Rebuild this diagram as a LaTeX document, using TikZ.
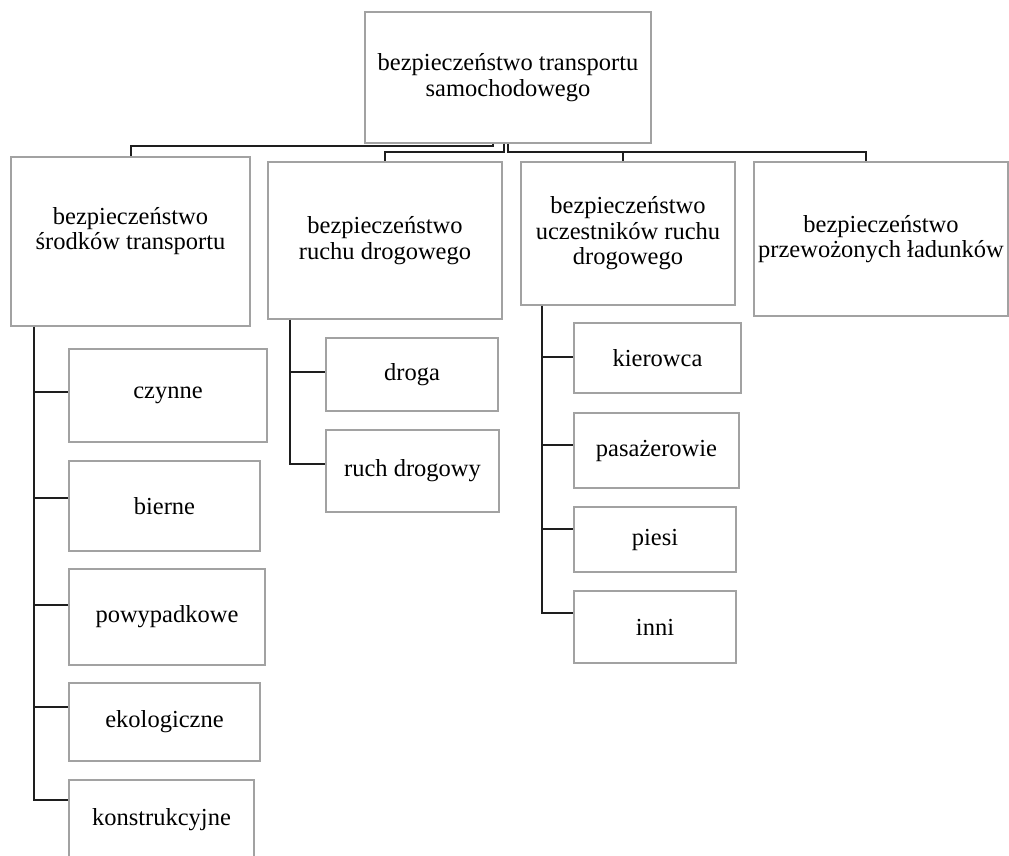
\documentclass[tikz,border=0pt]{standalone}
\usepackage{fontspec}
\setmainfont{Liberation Serif}
\begin{document}
\begin{tikzpicture}[x=1pt,y=-1pt,
  box/.style={draw=boxgray,line width=1.2pt,fill=white,inner sep=0pt,align=center,
    font=\fontsize{24.5}{25.5}\selectfont},
  conn/.style={draw=connblack,line width=2pt},
  lbl/.style={inner sep=0pt,align=center,font=\fontsize{24.5}{25.5}\selectfont}]
\definecolor{boxgray}{HTML}{A2A2A2}
\definecolor{connblack}{HTML}{1E1E1E}
\useasboundingbox (0,0) rectangle (1009,855);
\clip (0,0) rectangle (1009,855);
\fill[white] (0,0) rectangle (1009,855);

% level 0
\node[box,minimum width=286pt,minimum height=131pt] (top) at (508,77.5)
  {bezpieczeństwo transportu\\samochodowego};

% level 1
\node[box,minimum width=239pt,minimum height=169pt] (A) at (130.5,241.5) {};
\node[lbl] (Atext) at (130.5,231) {bezpieczeństwo\\środków transportu};
\node[box,minimum width=234pt,minimum height=157pt] (B) at (385,240.5)
  {bezpieczeństwo\\ruchu drogowego};
\node[box,minimum width=214pt,minimum height=143pt] (C) at (628,233.5)
  {bezpieczeństwo\\uczestników ruchu\\drogowego};
\node[box,minimum width=254pt,minimum height=154pt] (D) at (881,239)
  {bezpieczeństwo\\przewożonych ładunków};

% children of A
\node[box,minimum width=198pt,minimum height=93pt] (a1) at (168,395.5) {czynne};
\node[box,minimum width=191pt,minimum height=90pt] (a2) at (164.5,506) {bierne};
\node[box,minimum width=196pt,minimum height=96pt] (a3) at (167,617) {powypadkowe};
\node[box,minimum width=191pt,minimum height=78pt] (a4) at (164.5,722) {ekologiczne};
\node[box,minimum width=185pt,minimum height=80pt] (a5) at (161.5,820) {konstrukcyjne};

% children of B
\node[box,minimum width=172pt,minimum height=73pt] (b1) at (412,374.5) {droga};
\node[box,minimum width=173pt,minimum height=82pt] (b2) at (412.5,471) {ruch drogowy};

% children of C
\node[box,minimum width=167pt,minimum height=70pt] (c1) at (657.5,358) {kierowca};
\node[box,minimum width=165pt,minimum height=75pt] (c2) at (656.5,450.5) {pasażerowie};
\node[box,minimum width=162pt,minimum height=65pt] (c3) at (655,539.5) {piesi};
\node[box,minimum width=162pt,minimum height=72pt] (c4) at (655,627) {inni};

% top connectors
\coordinate (dA) at ([yshift=10pt]A.north);
\coordinate (dB) at ([yshift=9pt]B.north);
\coordinate (inD) at ([xshift=-15pt]D.north);
\coordinate (dD) at ([xshift=-15pt,yshift=9pt]D.north);
\coordinate (inC) at ([xshift=-5pt]C.north);
\coordinate (dC) at ([xshift=-5pt,yshift=9pt]C.north);
\draw[conn] ([xshift=-15pt]top.south) |- (dA) -- (A.north);
\draw[conn] ([xshift=-4pt]top.south) |- (dB) -- (B.north);
\draw[conn] (top.south) |- (dD) -- (inD);
\draw[conn] (dC) -- (inC);

% trunk A
\coordinate (tA) at ([xshift=24pt]A.south west);
\coordinate (pa1) at ([yshift=3.5pt]a1.west);
\coordinate (pa2) at ([yshift=8pt]a2.west);
\coordinate (pa3) at ([yshift=12pt]a3.west);
\coordinate (pa4) at ([yshift=15pt]a4.west);
\coordinate (pa5) at ([yshift=20pt]a5.west);
\draw[conn] (tA) |- (pa5);
\draw[conn] (tA |- pa1) -- (pa1);
\draw[conn] (tA |- pa2) -- (pa2);
\draw[conn] (tA |- pa3) -- (pa3);
\draw[conn] (tA |- pa4) -- (pa4);

% trunk B
\coordinate (tB) at ([xshift=23pt]B.south west);
\coordinate (pb1) at ([yshift=2.5pt]b1.west);
\coordinate (pb2) at ([yshift=7pt]b2.west);
\draw[conn] (tB) |- (pb2);
\draw[conn] (tB |- pb1) -- (pb1);

% trunk C
\coordinate (tC) at ([xshift=22pt]C.south west);
\coordinate (pc1) at ([yshift=1pt]c1.west);
\coordinate (pc2) at ([yshift=5.5pt]c2.west);
\coordinate (pc3) at ([yshift=10.5pt]c3.west);
\coordinate (pc4) at ([yshift=14pt]c4.west);
\draw[conn] (tC) |- (pc4);
\draw[conn] (tC |- pc1) -- (pc1);
\draw[conn] (tC |- pc2) -- (pc2);
\draw[conn] (tC |- pc3) -- (pc3);
\end{tikzpicture}
\end{document}
